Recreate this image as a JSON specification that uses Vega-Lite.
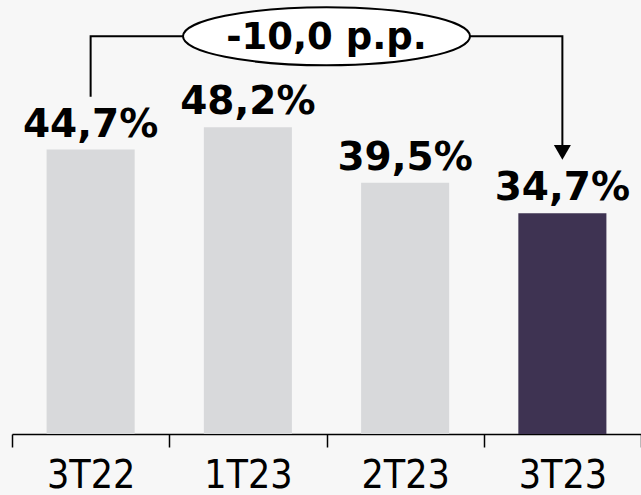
{
  "$schema": "https://vega.github.io/schema/vega-lite/v6.json",
  "width": 629,
  "height": 434,
  "autosize": "none",
  "padding": {"left": 12, "top": 0, "right": 0, "bottom": 61},
  "background": "#f7f7f7",
  "config": {"view": {"stroke": null}},
  "datasets": {
    "bars": [
      {"q": "3T22", "v": 44.7, "label": "44,7%"},
      {"q": "1T23", "v": 48.2, "label": "48,2%"},
      {"q": "2T23", "v": 39.5, "label": "39,5%"},
      {"q": "3T23", "v": 34.7, "label": "34,7%"}
    ],
    "bracket": [
      {"q": "3T22", "v": 53.0, "o": 1},
      {"q": "3T22", "v": 62.5, "o": 2},
      {"q": "3T23", "v": 62.5, "o": 3},
      {"q": "3T23", "v": 45.0, "o": 4}
    ],
    "arrow": [{"q": "3T23", "v": 44.25}],
    "note": [{"q": "1T23", "v": 62.5, "label": "-10,0 p.p."}]
  },
  "encoding": {
    "x": {
      "field": "q",
      "type": "nominal",
      "sort": ["3T22", "1T23", "2T23", "3T23"],
      "scale": {"domain": ["3T22", "1T23", "2T23", "3T23"], "paddingInner": 0, "paddingOuter": 0},
      "axis": {
        "title": null,
        "orient": "bottom",
        "labelAngle": 0,
        "domainColor": "#000000",
        "domainWidth": 1.5,
        "tickColor": "#000000",
        "tickWidth": 1.5,
        "tickSize": 13,
        "tickBand": "extent",
        "labelFont": "DejaVu Sans Condensed, Roboto, sans-serif",
        "labelFontSize": 39,
        "labelColor": "#000000",
        "labelPadding": 9,
        "grid": false
      }
    },
    "y": {
      "field": "v",
      "type": "quantitative",
      "scale": {"domain": [0, 68.2], "nice": false, "zero": true},
      "axis": null
    }
  },
  "layer": [
    {
      "data": {"name": "bars"},
      "mark": {"type": "bar", "width": {"band": 0.56}},
      "encoding": {
        "color": {
          "field": "q",
          "type": "nominal",
          "scale": {"domain": ["3T22", "1T23", "2T23", "3T23"], "range": ["#d8d9db", "#d8d9db", "#d8d9db", "#3e3352"]},
          "legend": null
        }
      }
    },
    {
      "data": {"name": "bars"},
      "mark": {"type": "text", "font": "DejaVu Sans", "fontWeight": "bold", "fontSize": 39, "baseline": "alphabetic", "dy": -13, "color": "#000000"},
      "encoding": {"text": {"field": "label"}}
    },
    {
      "data": {"name": "bracket"},
      "mark": {"type": "line", "color": "#000000", "strokeWidth": 2},
      "encoding": {"order": {"field": "o", "type": "quantitative"}}
    },
    {
      "data": {"name": "arrow"},
      "mark": {"type": "point", "shape": "triangle-down", "size": 289, "filled": true, "color": "#000000", "opacity": 1}
    },
    {
      "data": {"name": "note"},
      "mark": {"type": "point", "shape": "M-1,0A1,0.202,0,1,1,1,0A1,0.202,0,1,1,-1,0Z", "size": 82369, "filled": true, "fill": "#ffffff", "stroke": "#000000", "strokeWidth": 2, "opacity": 1},
      "encoding": {"x": {"field": "q", "type": "nominal", "bandPosition": 1}}
    },
    {
      "data": {"name": "note"},
      "mark": {"type": "text", "font": "DejaVu Sans", "fontWeight": "bold", "fontSize": 37, "baseline": "alphabetic", "dy": 13, "color": "#000000"},
      "encoding": {"x": {"field": "q", "type": "nominal", "bandPosition": 1}, "text": {"field": "label"}}
    }
  ]
}
